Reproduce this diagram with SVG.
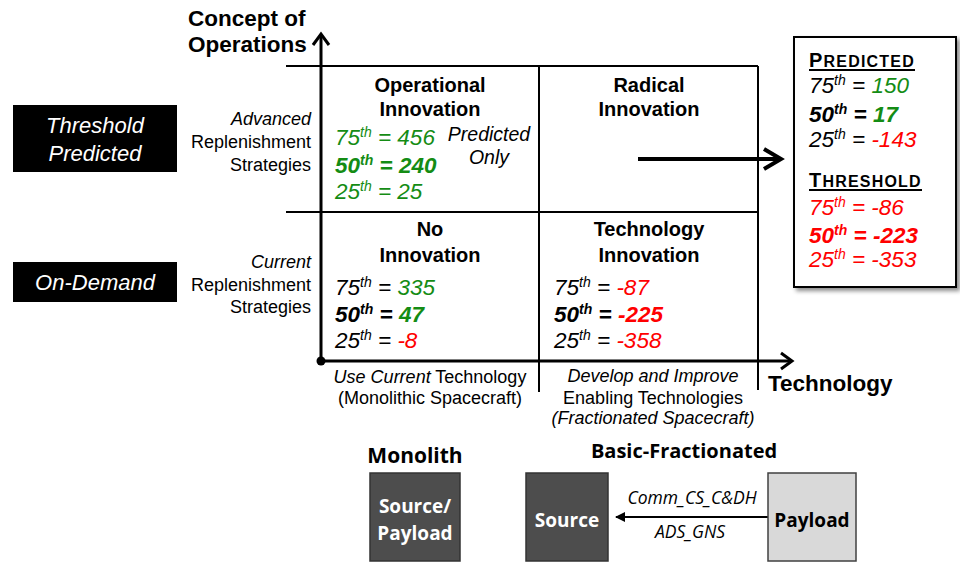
<svg xmlns="http://www.w3.org/2000/svg" width="960" height="563" viewBox="0 0 960 563">
<defs>
<style>
.a{font-family:"Liberation Sans",Arial,sans-serif}
.h{font-family:"Liberation Sans",Arial,sans-serif;font-weight:bold;font-size:20px;text-anchor:middle}
.v{font-family:"Liberation Sans",Arial,sans-serif;font-style:italic;font-size:22.5px}
.vb{font-weight:bold}
.s{font-family:"Liberation Sans",Arial,sans-serif;font-size:18px}
.g{fill:#148c14}
.r{fill:#ff0000}
.k{fill:#000}
.c{font-family:"Open Sans","Noto Sans",sans-serif}
.grid{stroke:#000;stroke-width:2;fill:none}
.axis{stroke:#000;stroke-width:3;fill:none}
</style>
<filter id="sh" x="-10%" y="-10%" width="130%" height="130%">
<feDropShadow dx="3" dy="3" stdDeviation="2" flood-color="#000" flood-opacity="0.45"/>
</filter>
<marker id="tri" markerWidth="10" markerHeight="10" refX="9" refY="5" orient="auto" markerUnits="userSpaceOnUse">
<path d="M0,0 L10,5 L0,10 Z" fill="#000"/>
</marker>
</defs>
<rect width="960" height="563" fill="#fff"/>

<g id="connectors">
<line class="grid" x1="286" y1="66" x2="758" y2="66"/>
<line class="grid" x1="286" y1="212" x2="758" y2="212"/>
<line class="grid" x1="539" y1="66" x2="539" y2="392"/>
<line class="grid" x1="758" y1="66" x2="758" y2="390"/>
<line class="axis" x1="321" y1="361" x2="321" y2="35"/>
<polyline class="axis" points="313,45 321,34 329,45"/>
<line class="axis" x1="321" y1="361" x2="791" y2="361"/>
<polyline class="axis" points="781,353 792,361 781,369"/>
<circle cx="321" cy="361" r="4.5" fill="#000"/>
<line x1="638" y1="159" x2="780" y2="159" stroke="#000" stroke-width="4"/>
<polyline points="764,149 781,159 764,169" fill="none" stroke="#000" stroke-width="4"/>
<line x1="768" y1="517" x2="616" y2="517" stroke="#000" stroke-width="2" marker-end="url(#tri)"/>
</g>

<g id="axis-labels">
<text class="a" x="188" y="26" font-size="22.5" font-weight="bold">Concept of</text>
<text class="a" x="188" y="52" font-size="22.5" font-weight="bold">Operations</text>
<text class="a" x="768" y="391" font-size="22.5" font-weight="bold">Technology</text>
</g>

<g id="threshold-predicted">
<rect x="13" y="105" width="164" height="67" fill="#000"/>
<text class="a" x="95" y="133" font-size="22" font-style="italic" fill="#fff" text-anchor="middle">Threshold</text>
<text class="a" x="95" y="161" font-size="22" font-style="italic" fill="#fff" text-anchor="middle">Predicted</text>
</g>
<g id="on-demand">
<rect x="13" y="262" width="164" height="40" fill="#000"/>
<text class="a" x="95" y="290" font-size="22" font-style="italic" fill="#fff" text-anchor="middle">On-Demand</text>
</g>

<g id="row-labels" class="s" text-anchor="end">
<text x="311" y="125" font-style="italic">Advanced</text>
<text x="311" y="148">Replenishment</text>
<text x="311" y="171">Strategies</text>
<text x="311" y="268" font-style="italic">Current</text>
<text x="311" y="291">Replenishment</text>
<text x="311" y="313">Strategies</text>
</g>

<g id="operational-innovation">
<text class="h" x="430" y="92">Operational</text>
<text class="h" x="430" y="116">Innovation</text>
<text class="v g" x="335" y="145">75<tspan font-size="14" dy="-8">th</tspan><tspan dy="8"> = 456</tspan></text>
<text class="v vb g" x="335" y="173">50<tspan font-size="14" dy="-8">th</tspan><tspan dy="8"> = 240</tspan></text>
<text class="v g" x="335" y="199">25<tspan font-size="14" dy="-8">th</tspan><tspan dy="8"> = 25</tspan></text>
<text class="a" x="489" y="141" font-size="19.5" font-style="italic" text-anchor="middle">Predicted</text>
<text class="a" x="489" y="164" font-size="19.5" font-style="italic" text-anchor="middle">Only</text>
</g>

<g id="radical-innovation">
<text class="h" x="649" y="92">Radical</text>
<text class="h" x="649" y="116">Innovation</text>
</g>

<g id="no-innovation">
<text class="h" x="430" y="236">No</text>
<text class="h" x="430" y="262">Innovation</text>
<text class="v" x="335" y="295">75<tspan font-size="14" dy="-8">th</tspan><tspan dy="8"> = </tspan><tspan class="g">335</tspan></text>
<text class="v vb" x="335" y="322">50<tspan font-size="14" dy="-8">th</tspan><tspan dy="8"> = </tspan><tspan class="g">47</tspan></text>
<text class="v" x="335" y="348">25<tspan font-size="14" dy="-8">th</tspan><tspan dy="8"> = </tspan><tspan class="r">-8</tspan></text>
</g>

<g id="technology-innovation">
<text class="h" x="649" y="236">Technology</text>
<text class="h" x="649" y="262">Innovation</text>
<text class="v" x="554" y="295">75<tspan font-size="14" dy="-8">th</tspan><tspan dy="8"> = </tspan><tspan class="r">-87</tspan></text>
<text class="v vb" x="554" y="322">50<tspan font-size="14" dy="-8">th</tspan><tspan dy="8"> = </tspan><tspan class="r">-225</tspan></text>
<text class="v" x="554" y="348">25<tspan font-size="14" dy="-8">th</tspan><tspan dy="8"> = </tspan><tspan class="r">-358</tspan></text>
</g>

<g id="column-labels" class="s" text-anchor="middle">
<text x="430" y="383"><tspan font-style="italic">Use Current</tspan> Technology</text>
<text x="430" y="404">(Monolithic Spacecraft)</text>
<text x="653" y="382" font-style="italic">Develop and Improve</text>
<text x="653" y="404">Enabling Technologies</text>
<text x="653" y="424" font-style="italic">(Fractionated Spacecraft)</text>
</g>

<g id="summary-box">
<rect x="794" y="37" width="162" height="250" fill="#fff" stroke="#000" stroke-width="2" filter="url(#sh)"/>
<text class="a" x="809" y="67" font-weight="bold" font-size="16" letter-spacing="1.2"><tspan font-size="20">P</tspan>REDICTED</text>
<line x1="809" y1="70" x2="915" y2="70" stroke="#000" stroke-width="2"/>
<text class="v" x="809" y="93">75<tspan font-size="14" dy="-8">th</tspan><tspan dy="8"> = </tspan><tspan class="g">150</tspan></text>
<text class="v vb" x="809" y="122">50<tspan font-size="14" dy="-8">th</tspan><tspan dy="8"> = </tspan><tspan class="g">17</tspan></text>
<text class="v" x="809" y="147">25<tspan font-size="14" dy="-8">th</tspan><tspan dy="8"> = </tspan><tspan class="r">-143</tspan></text>
<text class="a" x="809" y="187" font-weight="bold" font-size="16" letter-spacing="1.2"><tspan font-size="20">T</tspan>HRESHOLD</text>
<line x1="809" y1="190" x2="922" y2="190" stroke="#000" stroke-width="2"/>
<text class="v r" x="809" y="215">75<tspan font-size="14" dy="-8">th</tspan><tspan dy="8"> = -86</tspan></text>
<text class="v vb r" x="809" y="243">50<tspan font-size="14" dy="-8">th</tspan><tspan dy="8"> = -223</tspan></text>
<text class="v r" x="809" y="267">25<tspan font-size="14" dy="-8">th</tspan><tspan dy="8"> = -353</tspan></text>
</g>

<g id="monolith">
<text class="c" x="415" y="463" font-size="21" font-weight="bold" text-anchor="middle">Monolith</text>
<rect x="370" y="473" width="90" height="88" fill="#4d4d4d" stroke="#333" stroke-width="1.5"/>
<text class="c" x="415" y="513" font-size="19" font-weight="bold" fill="#fff" text-anchor="middle">Source/</text>
<text class="c" x="415" y="540" font-size="19" font-weight="bold" fill="#fff" text-anchor="middle">Payload</text>
</g>

<g id="basic-fractionated">
<text class="c" x="684" y="458" font-size="20" font-weight="bold" text-anchor="middle">Basic-Fractionated</text>
</g>
<g id="source">
<rect x="526" y="473" width="82" height="88" fill="#4d4d4d" stroke="#333" stroke-width="1.5"/>
<text class="c" x="567" y="527" font-size="19" font-weight="bold" fill="#fff" text-anchor="middle">Source</text>
</g>
<g id="payload">
<rect x="768" y="473" width="88" height="88" fill="#d9d9d9" stroke="#404040" stroke-width="1.5"/>
<text class="c" x="812" y="527" font-size="19" font-weight="bold" text-anchor="middle">Payload</text>
</g>
<g id="link-labels">
<text class="c" x="692" y="504" font-size="17.5" font-style="italic" text-anchor="middle">Comm_CS_C&amp;DH</text>
<text class="c" x="690" y="538" font-size="17.5" font-style="italic" text-anchor="middle">ADS_GNS</text>
</g>
</svg>
